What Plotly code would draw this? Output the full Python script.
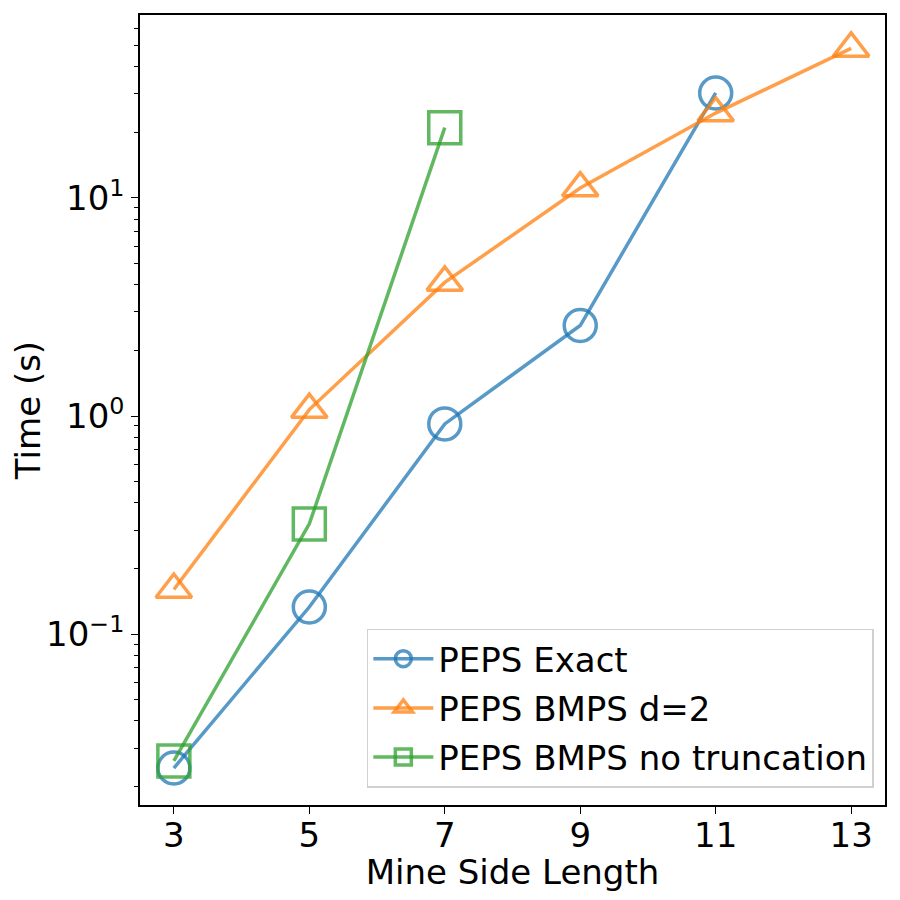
import plotly.graph_objects as go

# Mine side lengths and timings
side_exact = [3, 5, 7, 9, 11]
time_exact = [0.0243, 0.133, 0.92, 2.6, 30.3]

side_bmps = [3, 5, 7, 9, 11, 13]
time_bmps = [0.16, 1.07, 4.1, 11.1, 24.5, 48.5]

side_notrunc = [3, 5, 7]
time_notrunc = [0.0262, 0.32, 21.0]

x_ticks = [3, 5, 7, 9, 11, 13]
y_ticks = [0.1, 1, 10]
y_ticktext = ["10<sup>−1</sup>", "10<sup>0</sup>", "10<sup>1</sup>"]

series = [
    ("PEPS Exact", side_exact, time_exact, "rgba(31,119,180,0.75)", "circle-open", 32),
    ("PEPS BMPS d=2", side_bmps, time_bmps, "rgba(255,127,14,0.75)", "triangle-up-open", 31),
    ("PEPS BMPS no truncation", side_notrunc, time_notrunc, "rgba(44,160,44,0.75)", "square-open", 32),
]

fig = go.Figure()
for name, xs, ys, col, sym, sz in series:
    fig.add_trace(go.Scatter(
        x=xs, y=ys, name=name, mode="lines+markers", legendgroup=name,
        line=dict(color=col, width=3.5),
        marker=dict(symbol=sym, size=sz, color=col, line=dict(color=col, width=3.5)),
    ))

# the page body has an 8px margin, so the figure is a bit smaller than the window
font = "DejaVu Sans"
fig.update_layout(
    width=884, height=884,
    margin=dict(l=132, r=7, t=7, b=87),
    plot_bgcolor="white", paper_bgcolor="white",
    font=dict(family=font, size=34, color="black"),
    legend=dict(
        x=0.985, y=0.022, xanchor="right", yanchor="bottom",
        bgcolor="rgba(255,255,255,0.8)", bordercolor="#d0d0d0", borderwidth=1.5,
        font=dict(size=34), itemwidth=60, traceorder="grouped", tracegroupgap=2,
    ),
)
fig.update_xaxes(
    range=[2.5, 13.5], tickvals=x_ticks, tickfont=dict(size=34),
    ticklabelstandoff=-8, automargin=False,
    title=dict(text="Mine Side Length", standoff=0, font=dict(size=34)),
    showline=True, mirror=True, linecolor="black", linewidth=1.5,
    ticks="outside", ticklen=7, tickcolor="black", showgrid=False, zeroline=False,
)
fig.update_yaxes(
    type="log", range=[-1.784, 1.839], automargin=False,
    tickvals=y_ticks, ticktext=y_ticktext, tickfont=dict(size=34),
    title=dict(text="Time (s)", standoff=12, font=dict(size=34)),
    showline=True, mirror=True, linecolor="black", linewidth=1.5,
    ticks="outside", ticklen=7, tickcolor="black", showgrid=False, zeroline=False,
    minor=dict(ticks="outside", ticklen=4, tickcolor="black", dtick="D1", showgrid=False),
)

fig.write_html("out.html")
